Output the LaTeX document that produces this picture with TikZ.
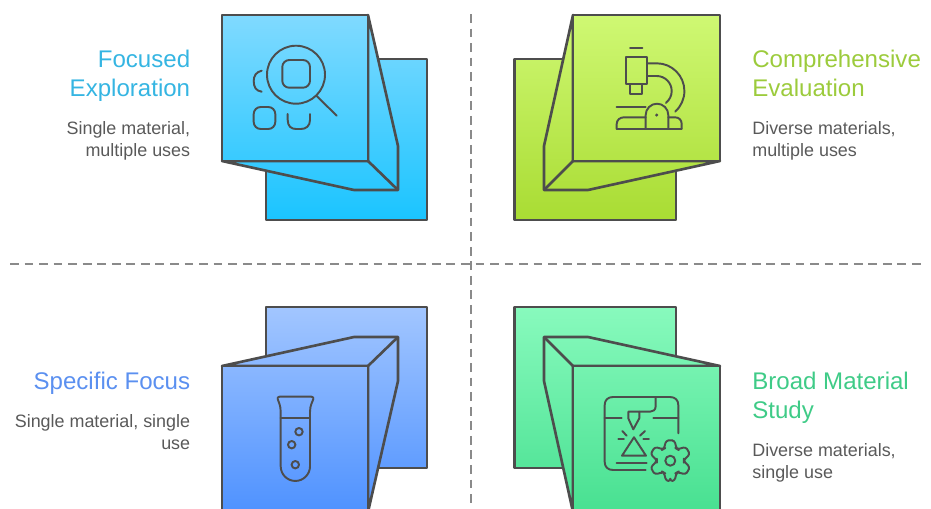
\documentclass[tikz,border=0pt]{standalone}
\usepackage{fontspec}
\setmainfont{Liberation Sans}
\definecolor{edge}{HTML}{4D4D4D}
\definecolor{divider}{HTML}{8A8A8A}
\definecolor{bodytext}{HTML}{595959}
\definecolor{skytop}{HTML}{80DAFF}
\definecolor{skybot}{HTML}{1AC4FF}
\definecolor{limetop}{HTML}{CFF873}
\definecolor{limebot}{HTML}{A9DC33}
\definecolor{periwtop}{HTML}{A2C6FF}
\definecolor{periwbot}{HTML}{4F92FF}
\definecolor{minttop}{HTML}{88FABD}
\definecolor{mintbot}{HTML}{48E091}
\definecolor{skyhead}{HTML}{35B5E2}
\definecolor{limehead}{HTML}{9CCB3C}
\definecolor{periwhead}{HTML}{5B90F0}
\definecolor{minthead}{HTML}{3FCB87}
\tikzset{
  panel/.style n args={4}{draw=edge, line width=1.5pt, line join=round, top color=#2!#3!#1, bottom color=#2!#4!#1},
  crease/.style={draw=edge, line width=1.5pt},
  glyph/.style={draw=edge, line width=1.1pt, line cap=round, line join=round},
  rule/.style={draw=divider, line width=1.15pt, dash pattern=on 5pt off 3.28pt},
  headleft/.style={anchor=north east, align=right, inner sep=0pt, font=\fontsize{13.7}{16.4}\selectfont},
  headright/.style={anchor=north west, align=left, inner sep=0pt, font=\fontsize{13.7}{16.4}\selectfont},
  noteleft/.style={anchor=north east, align=right, inner sep=0pt, text=bodytext, font=\fontsize{10.2}{12.5}\selectfont},
  noteright/.style={anchor=north west, align=left, inner sep=0pt, text=bodytext, font=\fontsize{10.2}{12.5}\selectfont}
}
\begin{document}
\begin{tikzpicture}[x=0.02cm, y=-0.02cm]
    \useasboundingbox (0,0) rectangle (931,508);
    \coordinate (vtop) at (471,14);
    \coordinate (vbot) at (471,508);
    \coordinate (hleft) at (10,264);
    \coordinate (hright) at (926,264);
    \draw[rule] (vtop) -- (vbot);
    \draw[rule] (hleft) -- (hright);

    \path[panel={skytop}{skybot}{21}{100}] (266,59) rectangle (427,220);
    \path[panel={skytop}{skybot}{0}{85}] (368,15) -- (398,146) -- (398,190) -- (354,190) -- (222,161) -- (368,161) -- cycle;
    \draw[crease] (368,161) -- (398,190);
    \path[panel={skytop}{skybot}{0}{71}] (222,15) rectangle (368,161);

    \path[panel={limetop}{limebot}{21}{100}] (514.5,59) rectangle (676,220);
    \path[panel={limetop}{limebot}{0}{85}] (573,15) -- (544,146) -- (544,190) -- (588,190) -- (720,161) -- (573,161) -- cycle;
    \draw[crease] (573,161) -- (544,190);
    \path[panel={limetop}{limebot}{0}{71}] (573,15) rectangle (720,161);

    \path[panel={periwtop}{periwbot}{0}{79}] (266,307) rectangle (427,468);
    \path[panel={periwtop}{periwbot}{15}{100}] (222,366) -- (354,337) -- (398,337) -- (398,381) -- (368,512) -- (368,366) -- cycle;
    \draw[crease] (368,366) -- (398,337);
    \path[panel={periwtop}{periwbot}{29}{100}] (222,366) rectangle (368,512);

    \path[panel={minttop}{mintbot}{0}{79}] (514.5,307) rectangle (676,468);
    \path[panel={minttop}{mintbot}{15}{100}] (720,366) -- (588,337) -- (544,337) -- (544,381) -- (573,512) -- (573,366) -- cycle;
    \draw[crease] (573,366) -- (544,337);
    \path[panel={minttop}{mintbot}{29}{100}] (573,366) rectangle (720,512);

    \draw[glyph] (296,74.7) circle (29);
    \draw[glyph, rounded corners=7*0.02cm] (282.3,60) rectangle (310,87.7);
    \draw[glyph] (316.7,96) -- (336.7,115.7);
    \draw[glyph] (261.7,70.7) .. controls (256,72) and (253.7,76) .. (253.7,81) .. controls (253.7,87) and (256,91) .. (261.7,91.7);
    \draw[glyph, rounded corners=7*0.02cm] (253.7,107) rectangle (275.3,129);
    \draw[glyph] (287.7,114) -- (287.7,120) .. controls (287.7,126) and (291,129) .. (296,129) -- (301,129) .. controls (306,129) and (310,126) .. (310,120) -- (310,114);

    \draw[glyph] (630,47.7) -- (642.3,47.7);
    \draw[glyph] (625.7,56.7) rectangle (647,84.3);
    \draw[glyph] (630.3,84.3) rectangle (642.3,94.3);
    \draw[glyph] (647,63.3) -- (656.7,63.3) arc[start angle=90, end angle=-48, radius=27.7*0.02cm];
    \draw[glyph] (647,76) -- (656.7,76) arc[start angle=90, end angle=-52, radius=15*0.02cm];
    \draw[glyph] (616.7,107.3) -- (645.7,107.3);
    \draw[glyph] (616.7,128.7) -- (681.7,128.7);
    \draw[glyph] (616.7,128.7) -- (616.7,124) .. controls (616.7,120) and (620,117.3) .. (624,117.3) -- (645.7,117.3);
    \draw[glyph] (668.3,117.3) -- (675,117.3) .. controls (679,117.3) and (681.7,120) .. (681.7,124) -- (681.7,128.7);
    \draw[glyph] (645.7,128.7) -- (645.7,115) arc[start angle=180, end angle=0, radius=11.3*0.02cm] -- (668.3,128.7);
    \fill[edge] (656.7,115) circle (1.7);

    \draw[glyph] (279.5,396.7) -- (311.5,396.7) .. controls (313.3,396.7) and (313.5,398) .. (313.3,399) .. controls (312.5,402) and (310,405) .. (310,412) -- (310,466.3) arc[start angle=0, end angle=-180, radius=14.65*0.02cm] -- (280.7,412) .. controls (280.7,405) and (278.5,402) .. (277.7,399) .. controls (277.5,398) and (277.7,396.7) .. (279.5,396.7) -- cycle;
    \draw[glyph] (280.7,418.3) -- (310,418.3);
    \draw[glyph] (299,431.7) circle (3.7);
    \draw[glyph] (291.7,444.7) circle (3.7);
    \draw[glyph] (295.3,464.7) circle (3.7);

    \draw[glyph] (678.3,433.3) -- (678.3,405) .. controls (678.3,400) and (675,397) .. (670,397) -- (613,397) .. controls (608,397) and (604.7,400) .. (604.7,405) -- (604.7,462) .. controls (604.7,467) and (608,470) .. (613,470) -- (645.7,470);
    \draw[glyph] (655.7,397) -- (655.7,406) .. controls (655.7,410) and (653,411.7) .. (650,411.7) -- (639.3,411.7);
    \draw[glyph] (628.3,411.7) -- (639.3,411.7) -- (639.3,418.3) -- (633.3,429.3) -- (628.3,418.3) -- cycle;
    \draw[glyph] (604.7,418.3) -- (621.7,418.3);
    \draw[glyph] (653.3,418.3) -- (678.3,418.3);
    \draw[glyph] (634,437.3) -- (646,455.7) -- (622,455.7) -- cycle;
    \draw[glyph] (616.7,463) -- (646.7,463);
    \draw[glyph] (618.3,439.3) -- (624,439.3);
    \draw[glyph] (643.3,439.3) -- (649,439.3);
    \draw[glyph] (622.3,431) -- (626.7,435.7);
    \draw[glyph] (645,431) -- (640,435.7);
    \draw[glyph, shift={(670.3,460.7)}, rounded corners=2.5*0.02cm] (90:20.5) \foreach \a in {0,60,...,300} { -- (\a+102:20.5) -- (\a+118:13.5) -- (\a+122:13.5) -- (\a+138:20.5) -- (\a+150:20.5)} -- cycle;
    \draw[glyph] (670.3,460.7) circle (5);

    \node[headleft, text=skyhead] (focusedhead) at (190.5,50) {Focused\\Exploration};
    \node[noteleft] (focusednote) at (190.5,121) {Single material,\\multiple uses};
    \node[headright, text=limehead] (comprehead) at (752,50) {Comprehensive\\Evaluation};
    \node[noteright] (comprenote) at (752,121) {Diverse materials,\\multiple uses};
    \node[headleft, text=periwhead] (specifichead) at (190.5,372) {Specific Focus};
    \node[noteleft] (specificnote) at (190.5,414) {Single material, single\\use};
    \node[headright, text=minthead] (broadhead) at (752,372) {Broad Material\\Study};
    \node[noteright] (broadnote) at (752,443) {Diverse materials,\\single use};
\end{tikzpicture}
\end{document}
